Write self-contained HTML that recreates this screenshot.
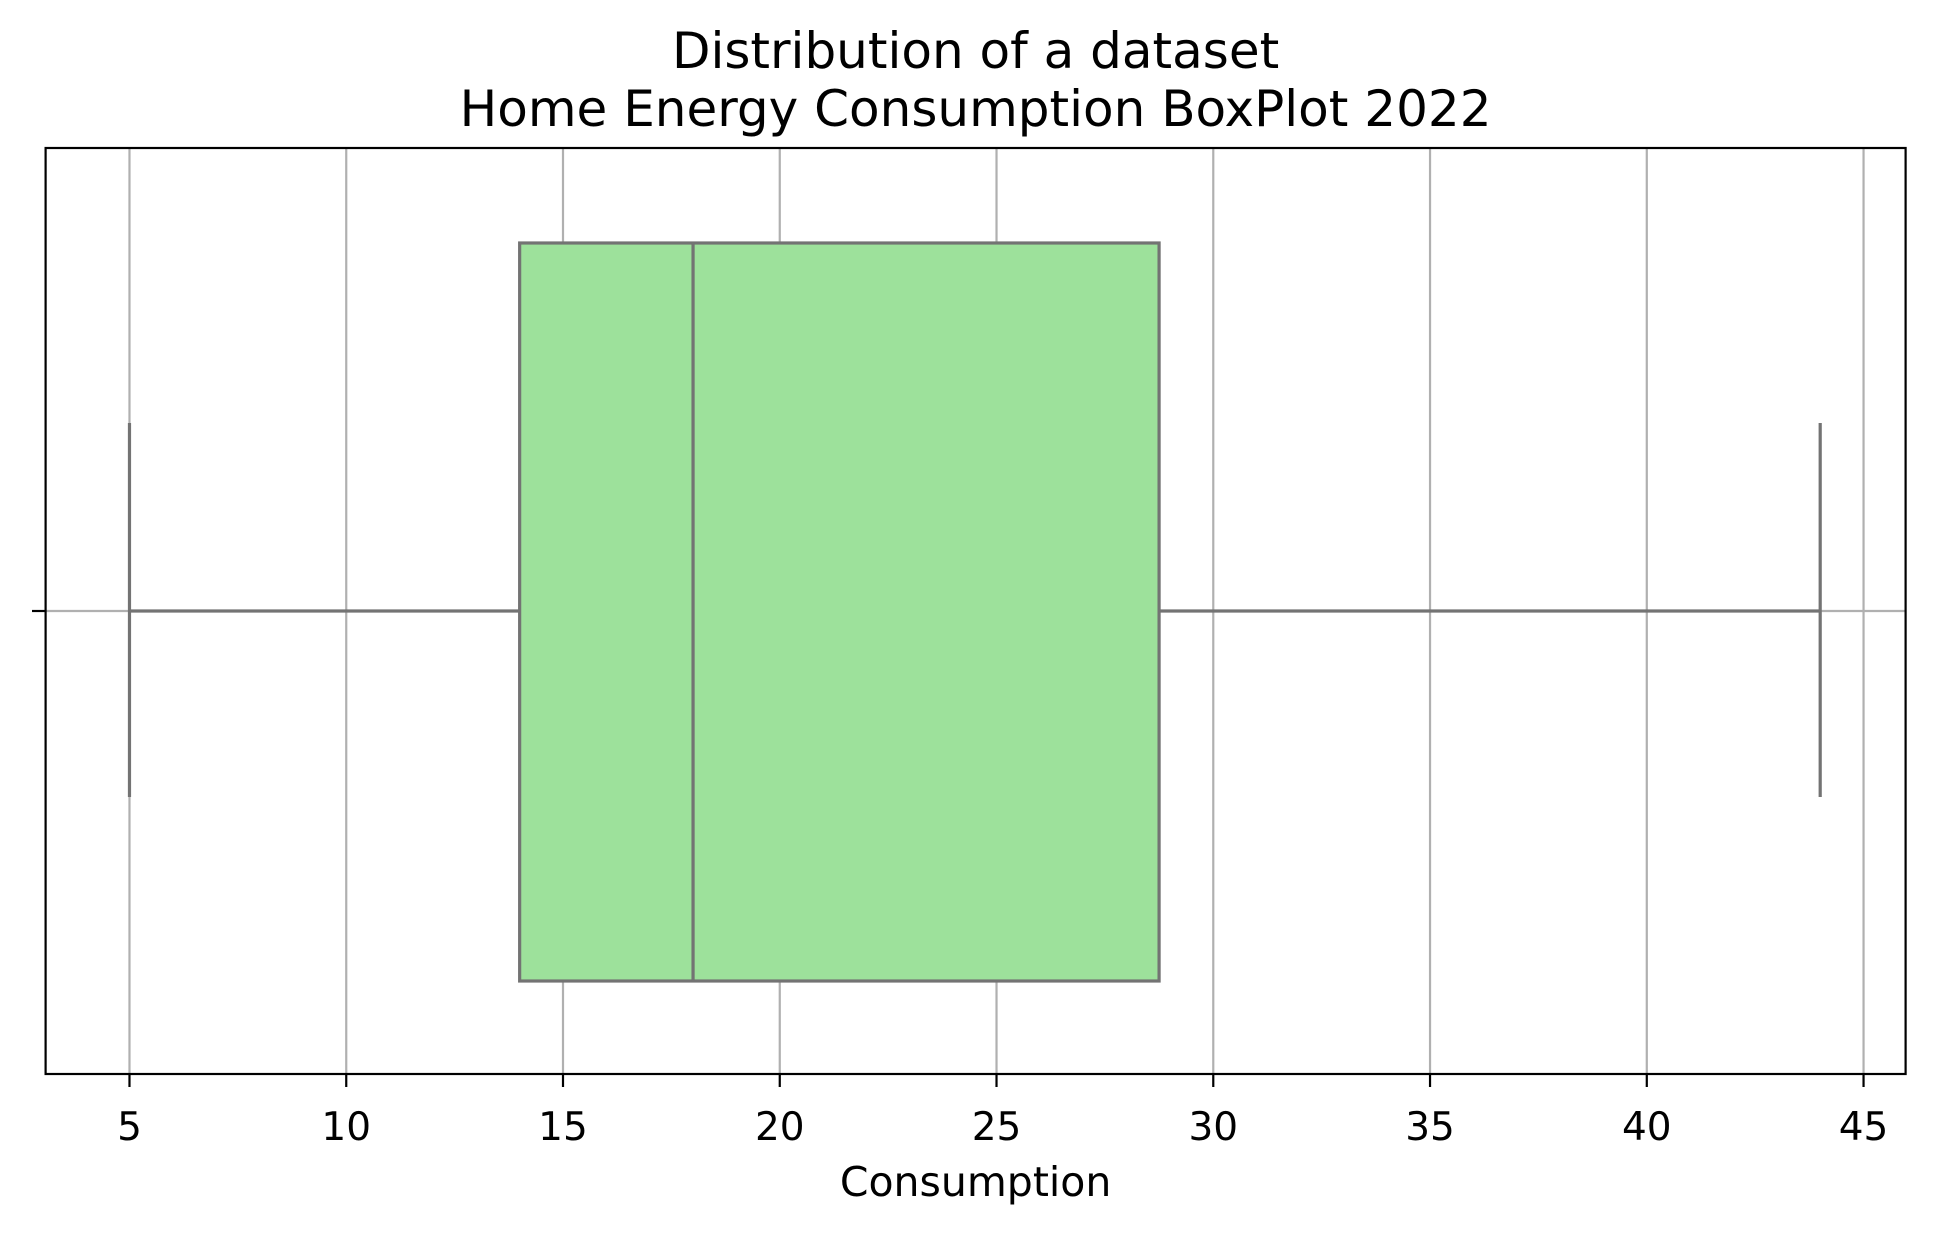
<!DOCTYPE html>
<html><head><meta charset="utf-8"><style>
html,body{margin:0;padding:0;background:#fff;}
svg{display:block;font-family:"DejaVu Sans","Liberation Sans",sans-serif;}
</style></head><body>
<svg id="chart" width="1934" height="1233">
<text x="975.6" y="68" text-anchor="middle" font-size="50">Distribution of a dataset</text>
<text x="975.6" y="126" text-anchor="middle" font-size="50">Home Energy Consumption BoxPlot 2022</text>
<g id="grid"></g>
<g id="box"></g>
<rect x="45.6" y="148" width="1860" height="926" fill="none" stroke="#000" stroke-width="2.2"/>
<line x1="45.6" x2="32" y1="611" y2="611" stroke="#000" stroke-width="2.2"/>
<g id="ticks"></g>
<text x="975.6" y="1196" text-anchor="middle" font-size="41">Consumption</text>
</svg>
<script>
const xTicks = [5,10,15,20,25,30,35,40,45];
const whiskerLow = [5];
const q1 = [14];
const median = [18];
const q3 = [28.75];
const whiskerHigh = [44];
const NS='http://www.w3.org/2000/svg';
const L=45.6,R=1905.6,T=148,B=1074,xmin=3.065,xmax=45.97;
const X=v=>L+(v-xmin)/(xmax-xmin)*(R-L);
function mk(tag,attrs,parent){const e=document.createElementNS(NS,tag);for(const k in attrs)e.setAttribute(k,attrs[k]);document.getElementById(parent).appendChild(e);return e;}
xTicks.forEach(t=>{
  const g=mk('line',{x1:X(t),x2:X(t),y1:T,y2:B,stroke:'#b0b0b0','stroke-width':2.2},'grid');
  
  
  const tk=mk('line',{x1:X(t),x2:X(t),y1:B,y2:B+13,stroke:'#000','stroke-width':2.2},'ticks');
  
  
  const tl=mk('text',{x:X(t),y:1140,'text-anchor':'middle','font-size':39},'ticks');
  tl.textContent=t;
  
  
});
const hg=mk('line',{x1:L,x2:R,y1:611,y2:611,stroke:'#b0b0b0','stroke-width':2.2},'grid');


const st='#737373',sw=3.2,cy=611,bt=243,bb=981,ct=423,cb=797;
const w1=mk('line',{x1:X(whiskerLow[0]),x2:X(q1[0]),y1:cy,y2:cy,stroke:st,'stroke-width':sw},'box');


const w2=mk('line',{x1:X(q3[0]),x2:X(whiskerHigh[0]),y1:cy,y2:cy,stroke:st,'stroke-width':sw},'box');


const c1=mk('line',{x1:X(whiskerLow[0]),x2:X(whiskerLow[0]),y1:ct,y2:cb,stroke:st,'stroke-width':sw},'box');


const c2=mk('line',{x1:X(whiskerHigh[0]),x2:X(whiskerHigh[0]),y1:ct,y2:cb,stroke:st,'stroke-width':sw},'box');


const bx=mk('rect',{x:X(q1[0]),y:bt,width:X(q3[0])-X(q1[0]),height:bb-bt,fill:'#9de19b',stroke:st,'stroke-width':sw},'box');


const md=mk('line',{x1:X(median[0]),x2:X(median[0]),y1:bt,y2:bb,stroke:st,'stroke-width':sw},'box');


</script>
</body></html>
